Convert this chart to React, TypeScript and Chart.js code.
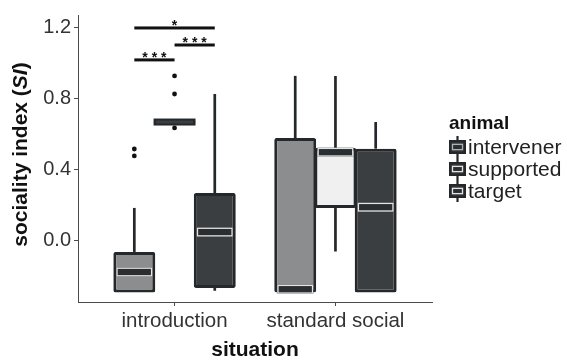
import React, { useEffect, useRef } from 'react';
import { Chart, registerables } from 'chart.js';

Chart.register(...registerables);

// ---------- data ----------
const categories = ['introduction', 'standard social'];
const groups = ['intervener', 'supported', 'target'];
const fills = ['#8b8d8f', '#f0f0f0', '#3b3e41'];

// rows: intervener, supported, target ; columns: introduction, standard social
const q1Values = [[-0.29, -0.29], [0.665, 0.186], [-0.265, -0.29]];
const q3Values = [[-0.062, 0.58], [0.675, 0.524], [0.27, 0.52]];
const medianValues = [[-0.175, -0.272], [0.67, 0.5], [0.05, 0.19]];
const whiskerLow = [[-0.29, -0.29], [0.665, -0.06], [-0.28, -0.29]];
const whiskerHigh = [[0.186, 0.93], [0.675, 0.93], [0.828, 0.67]];
const outlierValues = [
  [[0.479, 0.518], []],
  [[0.637, 0.828, 0.93], []],
  [[], []],
];

// significance brackets (introduction)
const sigLevels = [1.2, 1.104, 1.02];
const sigFrom = [0, 1, 0];
const sigTo = [2, 2, 1];
const sigLabels = ['*', '* * *', '* * *'];

const yTicks = [0, 0.4, 0.8, 1.2];
const xTicks = [1, 2];

// ---------- style ----------
const FONT = '"Liberation Sans", Arial, Helvetica, sans-serif';
const OUTLINE = '#25282b';
const AXIS = '#4a4a4a';

const boxPlugin = {
  id: 'boxExtras',
  beforeDatasetsDraw(chart: any) {
    const ctx = chart.ctx;
    const y = chart.scales.y;
    ctx.save();
    ctx.strokeStyle = OUTLINE;
    ctx.lineWidth = 2.7;
    groups.forEach((_g, gi) => {
      const meta = chart.getDatasetMeta(gi);
      meta.data.forEach((bar: any, ci: number) => {
        const x = bar.x;
        ctx.beginPath();
        ctx.moveTo(x, y.getPixelForValue(whiskerHigh[gi][ci]));
        ctx.lineTo(x, y.getPixelForValue(q3Values[gi][ci]));
        ctx.moveTo(x, y.getPixelForValue(q1Values[gi][ci]));
        ctx.lineTo(x, y.getPixelForValue(whiskerLow[gi][ci]));
        ctx.stroke();
      });
    });
    ctx.restore();
  },
  afterDatasetsDraw(chart: any) {
    const ctx = chart.ctx;
    const y = chart.scales.y;
    ctx.save();
    groups.forEach((_g, gi) => {
      const meta = chart.getDatasetMeta(gi);
      meta.data.forEach((bar: any, ci: number) => {
        const x = bar.x;
        const w = bar.width;
        const my = y.getPixelForValue(medianValues[gi][ci]);
        const flat = q3Values[gi][ci] - q1Values[gi][ci] < 0.02;
        if (flat) {
          ctx.fillStyle = OUTLINE;
          ctx.fillRect(x - w / 2, my - 3.5, w, 7);
          ctx.fillStyle = '#3b3e41';
          ctx.fillRect(x - w / 2 + 2.5, my - 1.5, w - 5, 3);
        } else {
          ctx.fillStyle = '#2b2e31';
          ctx.fillRect(x - w / 2 + 3, my - 4.5, w - 6, 9);
          ctx.strokeStyle = '#e4e4e4';
          ctx.lineWidth = 1.3;
          ctx.strokeRect(x - w / 2 + 3.7, my - 3.8, w - 7.4, 7.6);
        }
        // outliers
        ctx.fillStyle = '#111';
        outlierValues[gi][ci].forEach((v) => {
          ctx.beginPath();
          ctx.arc(x, y.getPixelForValue(v), 2.4, 0, Math.PI * 2);
          ctx.fill();
        });
      });
    });
    // significance brackets
    ctx.fillStyle = '#111';
    ctx.font = `bold 14px ${FONT}`;
    ctx.textAlign = 'center';
    ctx.textBaseline = 'alphabetic';
    sigLevels.forEach((lv, i) => {
      const x1 = chart.getDatasetMeta(sigFrom[i]).data[0].x;
      const x2 = chart.getDatasetMeta(sigTo[i]).data[0].x;
      const yy = y.getPixelForValue(lv);
      ctx.fillRect(x1, yy - 1.5, x2 - x1, 3);
      ctx.fillText(sigLabels[i], (x1 + x2) / 2, yy + 2.5);
    });
    ctx.restore();
  },
  afterDraw(chart: any) {
    const ctx = chart.ctx;
    const area = chart.chartArea;
    ctx.save();
    // y axis title with italic SI
    ctx.translate(21, (area.top + area.bottom) / 2 - 4);
    ctx.rotate(-Math.PI / 2);
    ctx.fillStyle = '#111';
    ctx.textBaseline = 'middle';
    ctx.textAlign = 'left';
    const p1 = 'sociality index (';
    const p2 = 'SI';
    const p3 = ')';
    const fB = `bold 21px ${FONT}`;
    const fBI = `italic bold 21px ${FONT}`;
    ctx.font = fB;
    const w1 = ctx.measureText(p1).width;
    const w3 = ctx.measureText(p3).width;
    ctx.font = fBI;
    const w2 = ctx.measureText(p2).width;
    let sx = -(w1 + w2 + w3) / 2;
    ctx.font = fB;
    ctx.fillText(p1, sx, 0);
    sx += w1;
    ctx.font = fBI;
    ctx.fillText(p2, sx, 0);
    sx += w2;
    ctx.font = fB;
    ctx.fillText(p3, sx, 0);
    ctx.restore();

    // legend
    ctx.save();
    const lx = 449;
    ctx.fillStyle = '#111';
    ctx.textBaseline = 'middle';
    ctx.textAlign = 'left';
    ctx.font = `bold 19px ${FONT}`;
    ctx.fillText('animal', lx, 124);
    groups.forEach((g, i) => {
      const cy = 147 + 22 * i;
      const cx = lx + 8.5;
      ctx.strokeStyle = OUTLINE;
      ctx.lineWidth = 2.2;
      ctx.beginPath();
      ctx.moveTo(cx, cy - 11);
      ctx.lineTo(cx, cy + 11);
      ctx.stroke();
      ctx.fillStyle = OUTLINE;
      ctx.fillRect(lx, cy - 7, 17, 14);
      ctx.fillStyle = '#3b3e41';
      ctx.fillRect(lx + 2.5, cy - 4.5, 12, 9);
      ctx.fillStyle = '#2b2e31';
      ctx.fillRect(lx + 3, cy - 3, 11, 6);
      ctx.strokeStyle = i === 0 ? '#b0b0b0' : '#e4e4e4';
      ctx.lineWidth = 1.3;
      ctx.strokeRect(lx + 3.5, cy - 2.6, 10, 5.2);
      ctx.fillStyle = '#222';
      ctx.font = `21px ${FONT}`;
      ctx.fillText(g, lx + 19, cy + 1);
    });
    ctx.restore();
  },
};

export default function App() {
  const ref = useRef<HTMLCanvasElement | null>(null);

  useEffect(() => {
    document.body.style.margin = '0';
    const canvas = ref.current;
    if (!canvas) return;
    const datasets = groups.map((g, gi) => ({
      label: g,
      data: categories.map((_c, ci) => ({ x: xTicks[ci], y: [q1Values[gi][ci], q3Values[gi][ci]] })),
      backgroundColor: fills[gi],
      borderColor: OUTLINE,
      borderWidth: 3,
      borderSkipped: false,
      borderRadius: 2,
      categoryPercentage: 0.75,
      barPercentage: 1.043,
    }));
    const chart = new Chart(canvas, {
      type: 'bar',
      data: { datasets: datasets as any },
      plugins: [boxPlugin as any],
      options: {
        animation: false,
        responsive: false,
        devicePixelRatio: 1,
        layout: { padding: { left: 0, right: 135, top: 15, bottom: 0 } },
        plugins: { legend: { display: false }, tooltip: { enabled: false } },
        scales: {
          x: {
            type: 'linear',
            min: 0.4,
            max: 2.6,
            offset: false,
            afterBuildTicks: (scale: any) => {
              scale.ticks = xTicks.map((v) => ({ value: v }));
            },
            afterFit: (scale: any) => {
              scale.height = 59;
            },
            ticks: {
              autoSkip: false,
              maxRotation: 0,
              padding: 3,
              color: '#333',
              font: { family: FONT, size: 20.5 },
              callback: (v: any) => categories[Math.round(Number(v)) - 1] ?? '',
            },
            grid: { display: true, drawOnChartArea: false, drawTicks: true, tickLength: 4, tickColor: AXIS, offset: false },
            border: { display: true, color: AXIS, width: 1 },
            title: {
              display: true,
              text: 'situation',
              color: '#111',
              font: { family: FONT, size: 21, weight: 'bold', lineHeight: 1 },
              padding: { top: 0, bottom: 0 },
            },
          },
          y: {
            type: 'linear',
            min: -0.344,
            max: 1.273,
            afterBuildTicks: (scale: any) => {
              scale.ticks = yTicks.map((v) => ({ value: v }));
            },
            afterFit: (scale: any) => {
              scale.width = 78;
            },
            ticks: {
              padding: 3,
              color: '#333',
              font: { family: FONT, size: 20 },
              callback: (v: any) => Number(v).toFixed(1),
            },
            grid: { display: true, drawOnChartArea: false, drawTicks: true, tickLength: 4, tickColor: AXIS },
            border: { display: true, color: AXIS, width: 1 },
          },
        },
      } as any,
    });
    return () => chart.destroy();
  }, []);

  return (
    <div style={{ position: 'absolute', left: 0, top: 0, width: 567, height: 361 }}>
      <canvas ref={ref} width={567} height={361} style={{ display: 'block', width: 567, height: 361 }} />
    </div>
  );
}
